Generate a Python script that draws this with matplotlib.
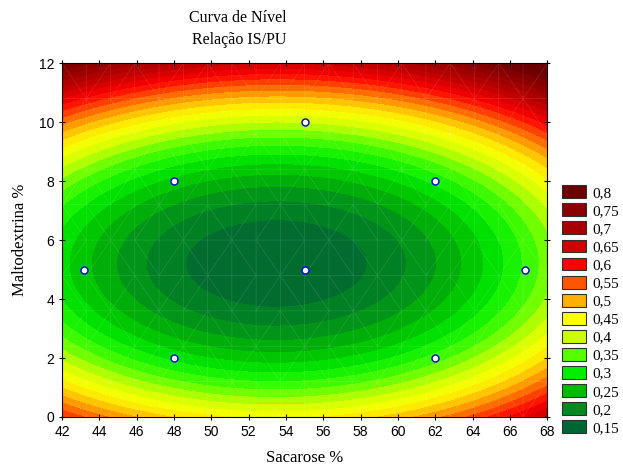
import numpy as np
import matplotlib
matplotlib.use("Agg")
import matplotlib.pyplot as plt
import matplotlib.tri as mtri
from matplotlib.colors import LinearSegmentedColormap
from matplotlib.patches import Patch

# design points (Sacarose %, Maltodextrina %)
sac = [43.2, 48, 48, 55, 55, 62, 62, 66.8]
malto = [5, 8, 2, 10, 5, 8, 2, 5]

# response (design points + borders of the map)
read_x = [43.2, 48, 48, 55, 55, 62, 62, 66.8, 42, 42, 68, 68, 55, 55, 42, 68]
read_y = [5, 8, 2, 10, 5, 8, 2, 5, 0, 12, 0, 12, 0, 12, 5, 5]
read_z = [0.26, 0.26, 0.30, 0.40, 0.155, 0.30, 0.34, 0.33,
          0.57, 0.78, 0.66, 0.86, 0.44, 0.66, 0.29, 0.36]

legend_levels = [0.8, 0.75, 0.7, 0.65, 0.6, 0.55, 0.5, 0.45, 0.4, 0.35, 0.3, 0.25, 0.2, 0.15]
legend_labels = ['0,8', '0,75', '0,7', '0,65', '0,6', '0,55', '0,5', '0,45', '0,4', '0,35', '0,3', '0,25', '0,2', '0,15']
legend_colors = ['#6b0000', '#8b0000', '#a80000', '#cc0000', '#ff0000', '#ff5500', '#ffb000',
                 '#ffff00', '#ccff00', '#55ff00', '#00ee00', '#00bb00', '#008a20', '#006633']

# second order response surface fitted to the read values
rx = np.array(read_x); ry = np.array(read_y); rz = np.array(read_z)
A = np.column_stack([np.ones_like(rx), rx, ry, rx**2, ry**2, rx*ry])
coef, *_ = np.linalg.lstsq(A, rz, rcond=None)

gx, gy = np.meshgrid(np.linspace(42, 68, 300), np.linspace(0, 12, 200))
gz = coef[0] + coef[1]*gx + coef[2]*gy + coef[3]*gx**2 + coef[4]*gy**2 + coef[5]*gx*gy

lv = np.array(legend_levels[::-1])
cmap = LinearSegmentedColormap.from_list(
    "statistica", [((v - lv[0]) / (lv[-1] - lv[0]), c) for v, c in zip(lv, legend_colors[::-1])])
levels = np.arange(0.0, 1.0001, 0.025)

plt.rcParams['font.family'] = 'Liberation Serif'
fig = plt.figure(figsize=(6.23, 4.68), dpi=100)
ax = fig.add_axes([0.0995, 0.109, 0.779, 0.756])

ax.contourf(gx, gy, gz, levels=levels, cmap=cmap, vmin=0.15, vmax=0.8, extend='both')

# faint wireframe like the original export
mx, my = np.meshgrid(np.linspace(42, 68, 21), np.linspace(0, 12, 11))
tri = mtri.Triangulation(mx.ravel(), my.ravel())
ax.triplot(tri, color='white', lw=0.5, alpha=0.13)

ax.plot(sac, malto, 'o', ms=5, mfc='white', mec='#1010e0', mew=1.1, zorder=5)

ax.set_xlim(42, 68)
ax.set_ylim(0, 12)
ax.set_xticks(np.arange(42, 69, 2))
ax.set_yticks(np.arange(0, 13, 2))
ax.tick_params(direction='inout', length=4, top=True, right=True, labelsize=10)
for lab in ax.get_xticklabels() + ax.get_yticklabels():
    lab.set_family('Liberation Sans')

ax.set_xlabel('Sacarose %', fontsize=12, labelpad=8)
ax.set_ylabel('Maltodextrina %', fontsize=12, labelpad=8)
fig.text(238 / 623, 1 - 18 / 468, 'Curva de Nível', fontsize=11.5, ha='center', va='center')
fig.text(239 / 623, 1 - 40 / 468, 'Relação IS/PU', fontsize=11.5, ha='center', va='center')

handles = [Patch(facecolor=c, edgecolor='#303030', lw=0.8) for c in legend_colors]
fig.legend(handles, legend_labels, loc='upper left', bbox_to_anchor=(0.902, 0.604),
           frameon=False, fontsize=11, handlelength=1.57, handleheight=0.92,
           labelspacing=0.22, handletextpad=0.45, borderaxespad=0, borderpad=0)

fig.savefig('out.png', dpi=100)
